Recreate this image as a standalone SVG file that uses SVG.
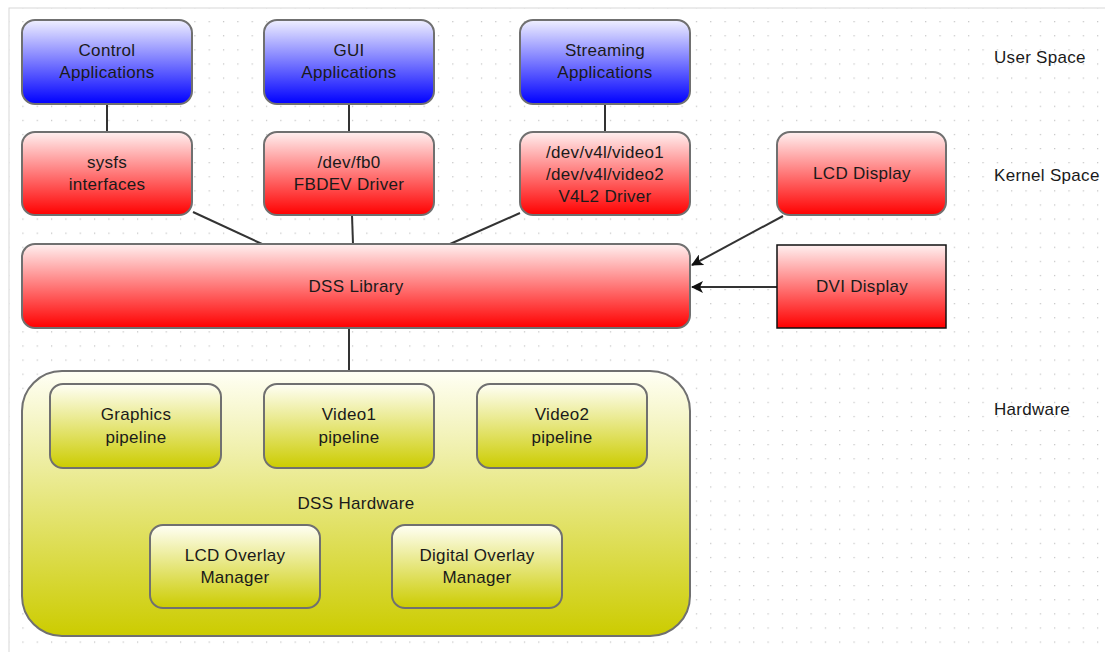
<svg xmlns="http://www.w3.org/2000/svg" width="1105" height="652" viewBox="0 0 1105 652">
<defs>
<pattern id="grid" x="8" y="7" width="14.33" height="14.1" patternUnits="userSpaceOnUse">
<rect x="0" y="0" width="1.2" height="1.2" fill="#c0c0c0"/>
</pattern>
<linearGradient id="gBlue" x1="0" y1="0" x2="0" y2="1">
<stop offset="0" stop-color="#f0f0ff"/>
<stop offset="1" stop-color="#0000ff"/>
</linearGradient>
<linearGradient id="gRed" x1="0" y1="0" x2="0" y2="1">
<stop offset="0" stop-color="#fff0f0"/>
<stop offset="1" stop-color="#ff0000"/>
</linearGradient>
<linearGradient id="gYel" x1="0" y1="0" x2="0" y2="1">
<stop offset="0" stop-color="#fffff5"/>
<stop offset="1" stop-color="#cccc00"/>
</linearGradient>
<marker id="arr" viewBox="0 0 12 12" refX="11" refY="6" markerWidth="12" markerHeight="12" markerUnits="userSpaceOnUse" orient="auto">
<path d="M0,0 L12,6 L0,12 L3,6 Z" fill="#111"/>
</marker>
<style>
.box{stroke:#707070;stroke-width:2}
.blue{fill:url(#gBlue)}
.red{fill:url(#gRed)}
.yel{fill:url(#gYel)}
.t{font-family:"Liberation Sans",Arial,sans-serif;font-size:17px;letter-spacing:0.3px;fill:#1a1a1a;text-anchor:middle}
.lbl{font-family:"Liberation Sans",Arial,sans-serif;font-size:17px;letter-spacing:0.3px;fill:#1a1a1a}
.c{stroke:#333;stroke-width:2;fill:none}
</style>
</defs>
<rect x="0" y="0" width="1105" height="652" fill="#fff"/>
<rect x="9" y="8" width="1100" height="650" fill="url(#grid)" stroke="#d8d8d8" stroke-width="1"/>

<g id="connectors">
<line class="c" x1="107" y1="104" x2="107" y2="132"/>
<line class="c" x1="349" y1="104" x2="349" y2="132"/>
<line class="c" x1="605" y1="104" x2="605" y2="132"/>
<line class="c" x1="193" y1="212" x2="262" y2="244"/>
<line class="c" x1="352" y1="215" x2="353" y2="244"/>
<line class="c" x1="520" y1="213" x2="450" y2="244"/>
<line class="c" x1="783" y1="216" x2="692" y2="265" marker-end="url(#arr)"/>
<line class="c" x1="777" y1="287" x2="692" y2="287" marker-end="url(#arr)"/>
<line class="c" x1="349" y1="328" x2="349" y2="371"/>
</g>

<g id="control-apps"><rect class="box blue" x="22" y="20" width="170" height="84" rx="13"/><text class="t" x="107" y="56">Control</text><text class="t" x="107" y="78">Applications</text></g>
<g id="gui-apps"><rect class="box blue" x="264" y="20" width="170" height="84" rx="13"/><text class="t" x="349" y="56">GUI</text><text class="t" x="349" y="78">Applications</text></g>
<g id="streaming-apps"><rect class="box blue" x="520" y="20" width="170" height="84" rx="13"/><text class="t" x="605" y="56">Streaming</text><text class="t" x="605" y="78">Applications</text></g>

<g id="sysfs"><rect class="box red" x="22" y="132" width="170" height="83" rx="13"/><text class="t" x="107" y="168">sysfs</text><text class="t" x="107" y="190">interfaces</text></g>
<g id="fbdev"><rect class="box red" x="264" y="132" width="170" height="83" rx="13"/><text class="t" x="349" y="168">/dev/fb0</text><text class="t" x="349" y="190">FBDEV Driver</text></g>
<g id="v4l2"><rect class="box red" x="520" y="132" width="170" height="83" rx="13"/><text class="t" x="605" y="158">/dev/v4l/video1</text><text class="t" x="605" y="180">/dev/v4l/video2</text><text class="t" x="605" y="202">V4L2 Driver</text></g>
<g id="lcd-display"><rect class="box red" x="777" y="132" width="169" height="83" rx="13"/><text class="t" x="862" y="179">LCD Display</text></g>

<g id="dss-library"><rect class="box red" x="22" y="244" width="668" height="84" rx="13"/><text class="t" x="356" y="292">DSS Library</text></g>
<g id="dvi-display"><rect fill="url(#gRed)" stroke="#111" stroke-width="1.5" x="777" y="245" width="169" height="83"/><text class="t" x="862" y="292">DVI Display</text></g>

<g id="dss-hardware"><rect class="box yel" x="22" y="371" width="668" height="265" rx="40"/><text class="t" x="356" y="509">DSS Hardware</text></g>
<g id="graphics-pipeline"><rect class="box yel" x="50" y="384" width="171" height="84" rx="13"/><text class="t" x="136" y="420">Graphics</text><text class="t" x="136" y="443">pipeline</text></g>
<g id="video1-pipeline"><rect class="box yel" x="264" y="384" width="170" height="84" rx="13"/><text class="t" x="349" y="420">Video1</text><text class="t" x="349" y="443">pipeline</text></g>
<g id="video2-pipeline"><rect class="box yel" x="477" y="384" width="170" height="84" rx="13"/><text class="t" x="562" y="420">Video2</text><text class="t" x="562" y="443">pipeline</text></g>
<g id="lcd-overlay"><rect class="box yel" x="150" y="525" width="170" height="83" rx="13"/><text class="t" x="235" y="561">LCD Overlay</text><text class="t" x="235" y="583">Manager</text></g>
<g id="digital-overlay"><rect class="box yel" x="392" y="525" width="170" height="83" rx="13"/><text class="t" x="477" y="561">Digital Overlay</text><text class="t" x="477" y="583">Manager</text></g>

<g id="labels">
<text class="lbl" x="994" y="63">User Space</text>
<text class="lbl" x="994" y="181">Kernel Space</text>
<text class="lbl" x="994" y="415">Hardware</text>
</g>
</svg>
